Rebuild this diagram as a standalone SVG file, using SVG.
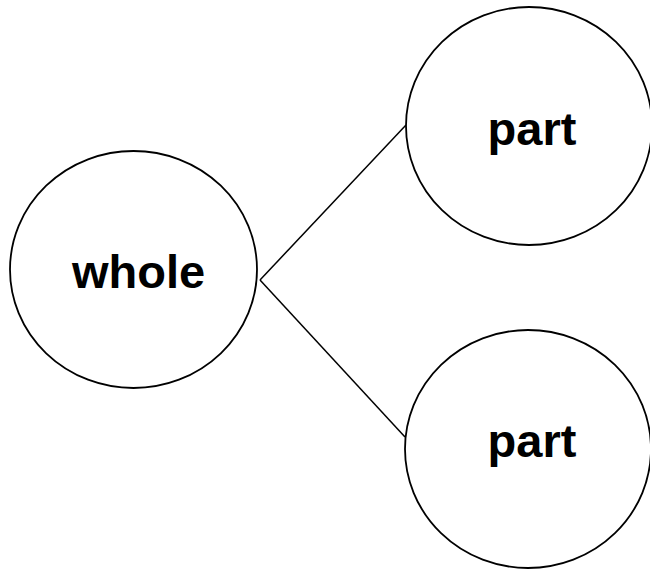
<svg xmlns="http://www.w3.org/2000/svg" width="650" height="571" viewBox="0 0 650 571">
<style>
.n{fill:#fff;stroke:#000;stroke-width:1.8}
.t{font-family:"Liberation Sans",Arial,sans-serif;font-weight:bold;font-size:47px;fill:#000;text-anchor:middle}
.c{stroke:#000;stroke-width:1.5;fill:none}
</style>
<rect width="650" height="571" fill="#fff"/>
<g id="connectors">
<line class="c" x1="260" y1="280" x2="406" y2="125"/>
<line class="c" x1="260" y1="280" x2="405" y2="437"/>
</g>
<g id="whole">
<ellipse class="n" cx="133.5" cy="269.5" rx="123.5" ry="118.5"/>
<text class="t" x="138.5" y="288">whole</text>
</g>
<g id="part1">
<ellipse class="n" cx="529" cy="126" rx="123" ry="119"/>
<text class="t" x="532" y="145">part</text>
</g>
<g id="part2">
<ellipse class="n" cx="528" cy="449" rx="123" ry="119"/>
<text class="t" x="532" y="457">part</text>
</g>
</svg>
